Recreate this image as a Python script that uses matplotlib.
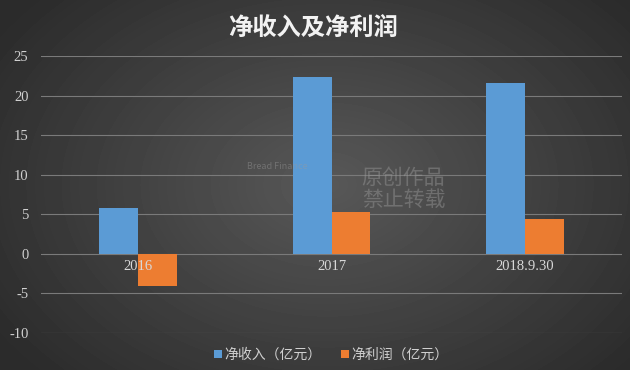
import numpy as np
import matplotlib
matplotlib.use('Agg')
import matplotlib.pyplot as plt

plt.rcParams['font.family'] = ['Noto Sans CJK SC', 'DejaVu Sans']

# data (亿元)
categories = ['2016', '2017', '2018.9.30']
revenue = [5.8, 22.4, 21.6]
profit = [-4.0, 5.3, 4.4]
series_names = ['净收入（亿元）', '净利润（亿元）']
yticks = [-10, -5, 0, 5, 10, 15, 20, 25]

fig = plt.figure(figsize=(6.3, 3.7), dpi=100)

# radial grey background
bg = fig.add_axes([0, 0, 1, 1], zorder=0)
yy, xx = np.mgrid[0:1:370j, 0:1:630j]
r = np.sqrt(((xx - 0.52) / 0.75) ** 2 + ((yy - 0.5) / 0.9) ** 2)
img = np.clip(0.345 - 0.21 * r, 0.17, 0.345)
bg.imshow(img, cmap='gray', vmin=0, vmax=1, aspect='auto', extent=[0, 1, 0, 1])
bg.axis('off')

ax = fig.add_axes([41 / 630, 37 / 370, 581 / 630, 277 / 370], zorder=1)
ax.patch.set_alpha(0)

x = np.arange(len(categories))
w = 0.2
ax.bar(x - w / 2, revenue, w, color='#5b9bd5', label=series_names[0], zorder=3)
ax.bar(x + w / 2, profit, w, color='#ed7d31', label=series_names[1], zorder=3)

ax.set_xlim(-0.5, 2.5)
ax.set_ylim(-10, 25)
ax.set_yticks(yticks)
ax.set_yticklabels([str(v) for v in yticks], family='Liberation Serif',
                   fontsize=10.5, color='#d0d0d0')
ax.yaxis.grid(True, color='#7a7a7a', linewidth=0.8, zorder=0)
ax.tick_params(length=0, pad=9)
ax.set_xticks([])
for s in ax.spines.values():
    s.set_visible(False)

# category labels sit just under the zero line
for i, c in enumerate(categories):
    ax.text(i, -0.8, c, ha='center', va='top', family='Liberation Serif',
            fontsize=10.5, color='#d8d8d8', zorder=4)

# faint watermark, over the bars
ax.text(0.552, 0.52, '原创作品\n禁止转载', transform=ax.transAxes, fontsize=15,
        color='#9a9a9a', alpha=0.45, ha='left', va='center', linespacing=1.0, zorder=6)
ax.text(0.355, 0.60, 'Bread Finance', transform=ax.transAxes, fontsize=6.5,
        color='#9a9a9a', alpha=0.45, ha='left', va='center', zorder=6)

fig.text(0.497, 0.925, '净收入及净利润', ha='center', va='center',
         fontsize=17.5, fontweight='bold', color='#f2f2f2')

leg = ax.legend(loc='center', bbox_to_anchor=(0.5, -0.08), ncol=2, frameon=False,
                handlelength=0.55, handleheight=0.55, handletextpad=0.2,
                columnspacing=1.4, fontsize=10)
for t in leg.get_texts():
    t.set_color('#d0d0d0')

fig.savefig('out.png', dpi=100)
